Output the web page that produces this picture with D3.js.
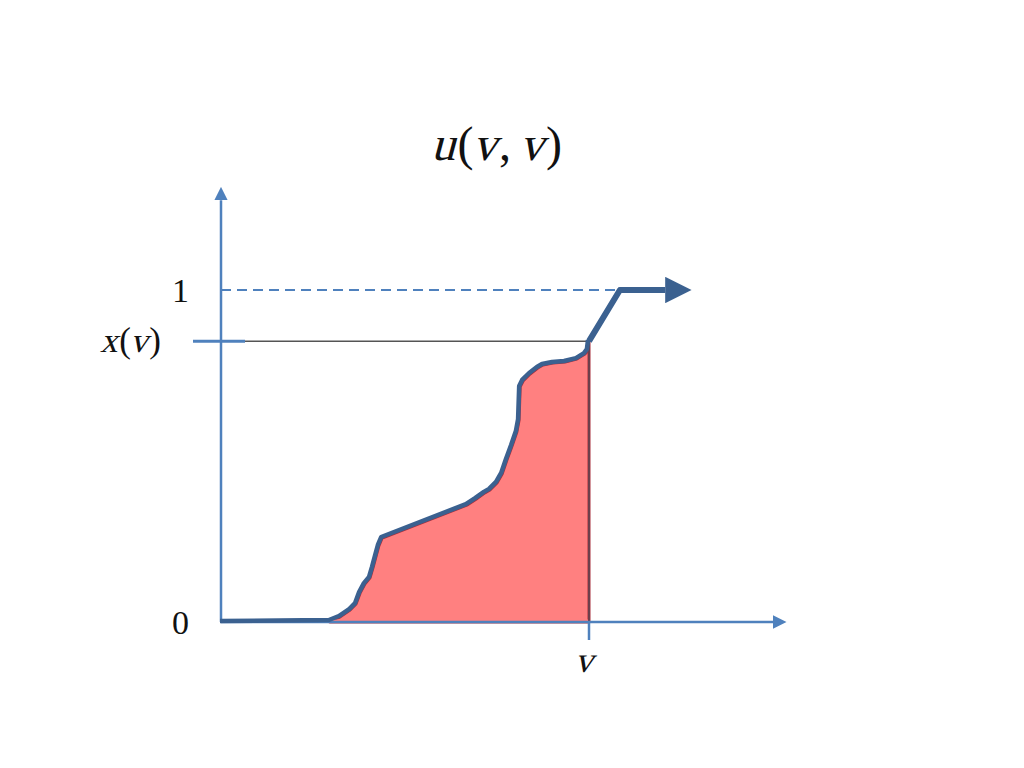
<!DOCTYPE html>
<html>
<head>
<meta charset="utf-8">
<script src="https://cdn.jsdelivr.net/npm/d3@7"></script>
<style>
  body { margin: 0; background: #fff; }
  text { font-family: "Liberation Serif", "DejaVu Serif", serif; fill: #111; font-style: normal; }
</style>
</head>
<body>
<div id="chart"></div>
<script>
// curve u(s, v), x in units of v, y in units of 1
var curveX = [0, 0.296, 0.323, 0.351, 0.367, 0.378, 0.391, 0.405, 0.413, 0.421, 0.429, 0.438,
              0.668, 0.693, 0.717, 0.731, 0.750, 0.764, 0.777, 0.791, 0.804, 0.810, 0.813,
              0.821, 0.840, 0.861, 0.875, 0.902, 0.935, 0.967, 0.989, 0.997, 1.0]
var curveY = [0, 0.003, 0.015, 0.036, 0.054, 0.087, 0.114, 0.133, 0.163, 0.196, 0.229, 0.253,
              0.352, 0.370, 0.389, 0.398, 0.419, 0.446, 0.488, 0.530, 0.572, 0.608, 0.708,
              0.726, 0.747, 0.765, 0.774, 0.780, 0.783, 0.792, 0.807, 0.819, 0.846]

// continuation after v, ending in the arrow
var tailX = [1.0, 1.084, 1.207]
var tailY = [0.846, 1.0, 1.0]

var vValue = 1.0
var xOfV = 0.846
var fillStart = 0.296

var tickLabels = [ {value: 0, label: "0"}, {value: 1, label: "1"} ]

// label pieces: [text, italic?]
var titleParts = [["u", 1], ["(", 0], ["v", 1], [",", 0], [" ", 0], ["v", 1], [")", 0]]
var xvParts = [["x", 1], ["(", 0], ["v", 1], [")", 0]]
var vParts = [["v", 1]]

var width = 1024, height = 768

// scales
var x = d3.scaleLinear().domain([0, 1]).range([221, 589])
var y = d3.scaleLinear().domain([0, 1]).range([622, 290])

var axisColor = "#4f81bd"
var curveColor = "#3b6190"

const svg = d3.select("#chart")
    .append("svg")
        .attr("width", width)
        .attr("height", height)

var defs = svg.append("defs")
defs.append("marker")
    .attr("id", "axisArrow")
    .attr("viewBox", "0 0 10 10")
    .attr("refX", 0).attr("refY", 5)
    .attr("markerWidth", 5.4).attr("markerHeight", 5.4)
    .attr("markerUnits", "strokeWidth")
    .attr("orient", "auto")
  .append("path")
    .attr("d", "M0,0 L10,5 L0,10 z")
    .attr("fill", axisColor)

defs.append("marker")
    .attr("id", "bigArrow")
    .attr("viewBox", "0 0 10 10")
    .attr("refX", 0).attr("refY", 5)
    .attr("markerWidth", 4.6).attr("markerHeight", 4.4)
    .attr("markerUnits", "strokeWidth")
    .attr("orient", "auto")
  .append("path")
    .attr("d", "M0,0 L10,5 L0,10 z")
    .attr("fill", curveColor)

var pts = curveX.map(function(d, i) { return [d, curveY[i]] })
var fillPts = pts.filter(function(p) { return p[0] >= fillStart })

// red area under the curve up to v
svg.append("path")
    .datum(fillPts)
    .attr("fill", "#ff8080")
    .attr("stroke", "#a8303c")
    .attr("stroke-width", 3)
    .attr("stroke-linejoin", "round")
    .attr("d", d3.area()
        .x(function(d) { return x(d[0]) })
        .y0(y(0))
        .y1(function(d) { return y(d[1]) }))

// cover the stroke on the bottom edge of the area
svg.append("line")
    .attr("x1", x(fillStart)).attr("x2", x(vValue) - 1)
    .attr("y1", y(0) - 1).attr("y2", y(0) - 1)
    .attr("stroke", "#ff8080")
    .attr("stroke-width", 3)

// dashed line at 1
svg.append("line")
    .attr("x1", x(0)).attr("x2", x(tailX[1]))
    .attr("y1", y(1)).attr("y2", y(1))
    .attr("stroke", axisColor)
    .attr("stroke-width", 2)
    .attr("stroke-dasharray", "10,6")

// thin guide at x(v)
svg.append("line")
    .attr("x1", x(0)).attr("x2", x(vValue))
    .attr("y1", y(xOfV)).attr("y2", y(xOfV))
    .attr("stroke", "#555")
    .attr("stroke-width", 1.5)

// vertical at v
svg.append("line")
    .attr("x1", x(vValue)).attr("x2", x(vValue))
    .attr("y1", y(xOfV)).attr("y2", y(0))
    .attr("stroke", "#5a4550")
    .attr("stroke-width", 1.5)

// axes
svg.append("line")
    .attr("x1", x(0)).attr("x2", x(0))
    .attr("y1", y(0)).attr("y2", y(1.27))
    .attr("stroke", axisColor)
    .attr("stroke-width", 2.5)
    .attr("marker-end", "url(#axisArrow)")

svg.append("line")
    .attr("x1", x(0)).attr("x2", x(1.5))
    .attr("y1", y(0)).attr("y2", y(0))
    .attr("stroke", axisColor)
    .attr("stroke-width", 2.5)
    .attr("marker-end", "url(#axisArrow)")

// ticks at x(v) and v
svg.append("line")
    .attr("x1", x(0) - 28).attr("x2", x(0) + 24)
    .attr("y1", y(xOfV)).attr("y2", y(xOfV))
    .attr("stroke", axisColor)
    .attr("stroke-width", 3)

svg.append("line")
    .attr("x1", x(vValue)).attr("x2", x(vValue))
    .attr("y1", y(0)).attr("y2", y(0) + 18)
    .attr("stroke", axisColor)
    .attr("stroke-width", 2.5)

// the curve
svg.append("path")
    .datum(pts)
    .attr("fill", "none")
    .attr("stroke", curveColor)
    .attr("stroke-width", 4.5)
    .attr("stroke-linejoin", "round")
    .attr("transform", "translate(-1,-1)")
    .attr("d", d3.line()
        .x(function(d) { return x(d[0]) })
        .y(function(d) { return y(d[1]) }))

svg.append("path")
    .datum(tailX.map(function(d, i) { return [d, tailY[i]] }))
    .attr("fill", "none")
    .attr("stroke", curveColor)
    .attr("stroke-width", 6)
    .attr("stroke-linejoin", "round")
    .attr("marker-end", "url(#bigArrow)")
    .attr("d", d3.line()
        .x(function(d) { return x(d[0]) })
        .y(function(d) { return y(d[1]) }))

// math-style label: upright serif pieces, italic letters slanted by hand
function mathLabel(parts, px, py, size, anchor) {
    var g = svg.append("g")
    var cx = 0
    parts.forEach(function(p) {
        var t = g.append("text")
            .attr("font-size", size)
            .attr("xml:space", "preserve")
            .text(p[0])
        var w = t.node().getComputedTextLength()
        if (p[0] == " ") w = size * 0.2
        if (p[1]) {
            t.attr("transform", "translate(" + (cx - size * 0.02) + ",0) skewX(-15)")
            w += size * 0.03
        } else {
            t.attr("transform", "translate(" + cx + ",0)")
        }
        cx += w
    })
    var shift = anchor == "end" ? -cx : anchor == "middle" ? -cx / 2 : 0
    g.attr("transform", "translate(" + (px + shift) + "," + py + ")")
    return g
}

svg.selectAll(".ylab")
    .data(tickLabels)
    .enter().append("text")
    .attr("class", "ylab")
    .attr("x", x(0) - 32)
    .attr("y", function(d) { return y(d.value) })
    .attr("dy", "0.35em")
    .attr("text-anchor", "end")
    .attr("font-size", 34)
    .text(function(d) { return d.label })

mathLabel(xvParts, x(0) - 60, y(xOfV) + 11, 35, "end")
mathLabel(vParts, x(vValue) - 4, y(0) + 50, 36, "middle")
mathLabel(titleParts, 497, 160, 48, "middle")
</script>
</body>
</html>
